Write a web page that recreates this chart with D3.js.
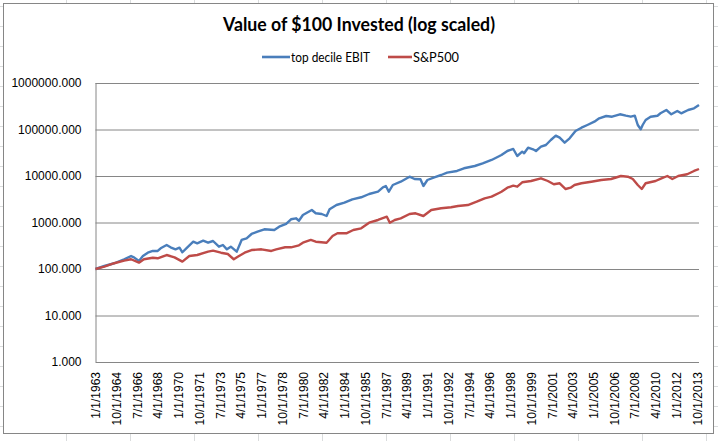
<!DOCTYPE html>
<html lang="en">
<head>
<meta charset="UTF-8">
<title>Value of $100 Invested (log scaled)</title>
<script src="https://cdn.jsdelivr.net/npm/d3@7"></script>
<style>
  html, body { margin: 0; padding: 0; background: #fff; }
  svg { display: block; }
</style>
</head>
<body>
<div id="chart"></div>
<script>
// values (month, value of $100)
const topDates = ["1963-01","1963-10","1964-08","1965-06","1966-01","1966-04","1966-09","1967-01","1967-06","1967-11",
  "1968-04","1968-07","1969-01","1969-05","1969-10","1970-02","1970-05","1970-10","1971-04","1971-08",
  "1972-02","1972-07","1972-12","1973-06","1973-10","1974-02","1974-06","1974-12","1975-05","1975-10",
  "1976-03","1976-09","1977-04","1978-02","1978-07","1979-02","1979-07","1979-12","1980-03","1980-07",
  "1981-04","1981-08","1982-02","1982-07","1982-10","1983-05","1984-01","1984-09","1985-06","1986-02",
  "1986-11","1987-04","1987-07","1987-10","1988-02","1988-10","1989-07","1989-12","1990-06","1990-09",
  "1991-01","1991-08","1992-03","1992-09","1993-07","1994-02","1995-01","1995-09","1996-06","1997-02",
  "1997-04","1997-10","1998-04","1998-08","1999-01","1999-03","1999-07","1999-12","2000-03","2000-08",
  "2001-01","2001-06","2001-11","2002-03","2002-08","2003-01","2003-07","2004-01","2004-07","2005-02",
  "2005-07","2006-02","2006-08","2007-04","2007-10","2008-03","2008-07","2008-10","2009-01","2009-03",
  "2009-06","2009-11","2010-06","2010-09","2011-03","2011-08","2012-02","2012-06","2013-01","2013-07","2013-12"];
const topValues = [100,116,133,162,190,178,149,190,224,244,
  244,279,328,293,265,287,229,293,386,357,
  406,368,400,302,328,265,302,236,421,457,
  566,634,714,690,812,929,1172,1231,1093,1449,
  1857,1578,1524,1380,1922,2378,2667,3155,3484,4100,
  4594,5717,6095,4594,6404,7538,9660,8613,8492,6095,
  8204,9380,10510,11780,12820,14650,16400,18750,22090,26920,
  28300,34500,38100,26920,33340,30770,40600,37500,34500,42660,
  46420,59430,73600,66660,52030,64700,92860,109300,125000,147200,
  174100,195000,188500,212400,198100,188500,198100,125000,101000,125000,
  160000,188500,198100,223000,262600,212400,250000,223000,262600,285700,336500];

const spDates = ["1963-01","1963-10","1964-08","1965-06","1966-01","1966-09","1967-02","1967-11","1968-04","1969-01",
  "1969-09","1970-05","1970-12","1971-08","1972-07","1972-12","1973-08","1974-03","1974-09","1975-01",
  "1975-08","1976-03","1977-01","1977-11","1978-04","1979-01","1979-07","1980-03","1980-07","1981-03",
  "1981-08","1982-07","1983-01","1983-06","1984-03","1984-10","1985-06","1986-02","1986-11","1987-08",
  "1987-11","1988-04","1988-10","1989-07","1990-01","1990-09","1991-05","1992-03","1993-01","1993-08",
  "1994-06","1995-03","1995-11","1996-06","1997-02","1997-04","1997-10","1998-04","1998-08","1999-01",
  "1999-10","2000-08","2001-03","2001-09","2002-03","2002-09","2003-02","2003-06","2004-01","2004-11",
  "2005-09","2006-07","2007-05","2007-12","2008-05","2008-10","2009-02","2009-06","2010-04","2010-10",
  "2011-04","2011-09","2012-03","2012-12","2013-07","2013-12"];
const spValues = [100,112,133,151,162,137,162,175,170,200,
  178,144,190,200,236,248,224,210,162,184,
  224,256,265,244,265,293,293,323,368,421,
  386,368,512,586,586,690,750,990,1132,1333,
  990,1132,1231,1524,1578,1380,1857,2020,2123,2264,
  2378,2800,3313,3590,4374,4594,5600,6185,5890,7325,
  7808,8930,7808,6635,6970,5250,5600,6404,6970,7538,
  8204,8613,10000,9660,8613,6404,5250,6970,7808,8930,
  10000,8613,10000,10890,12820,14150];

const seriesNames = ["top decile EBIT", "S&P500"];
const seriesColors = ["#4A7EBB", "#BE4B48"];

const xTickLabels = ["1/1/1963","10/1/1964","7/1/1966","4/1/1968","1/1/1970","10/1/1971","7/1/1973","4/1/1975",
  "1/1/1977","10/1/1978","7/1/1980","4/1/1982","1/1/1984","10/1/1985","7/1/1987","4/1/1989","1/1/1991",
  "10/1/1992","7/1/1994","4/1/1996","1/1/1998","10/1/1999","7/1/2001","4/1/2003","1/1/2005","10/1/2006",
  "7/1/2008","4/1/2010","1/1/2012","10/1/2013"];
const yTicks = [1, 10, 100, 1000, 10000, 100000, 1000000];

const width = 718, height = 441;
const plot = { left: 95.5, right: 699, top: 83, bottom: 362 };

const parseMonth = d3.timeParse("%Y-%m");
const parseTick = d3.timeParse("%m/%d/%Y");

const svg = d3.select("#chart").append("svg")
  .attr("width", width)
  .attr("height", height);

// faint spreadsheet cells peeking out around the chart object
const sheet = svg.append("g").attr("stroke", "#dadcdd").attr("stroke-width", 1);
for (let y = 6.5; y < height; y += 20) sheet.append("line").attr("x1", 0).attr("x2", width).attr("y1", y).attr("y2", y);
for (let x = 66.5; x < width; x += 64) sheet.append("line").attr("x1", x).attr("x2", x).attr("y1", 0).attr("y2", height);

svg.append("rect")
  .attr("x", 3.5).attr("y", 3.5)
  .attr("width", 710).attr("height", 430)
  .attr("fill", "#fff")
  .attr("stroke", "#868686");

const x = d3.scaleTime()
  .domain([parseMonth("1963-01"), parseMonth("2013-12")])
  .range([plot.left, plot.right]);

const y = d3.scaleLog()
  .domain([1, 1000000])
  .range([plot.bottom, plot.top]);

// gridlines + y labels
const yAxis = d3.axisLeft(y)
  .tickValues(yTicks)
  .tickFormat(d3.format(".3f"))
  .tickSize(-(plot.right - plot.left))
  .tickPadding(14);

const gy = svg.append("g")
  .attr("transform", `translate(${plot.left},0)`)
  .call(yAxis);
gy.select(".domain").attr("stroke", "#868686").attr("d", `M0.5,${plot.top}V${plot.bottom}`);
gy.selectAll(".tick line").attr("stroke", "#868686");
gy.selectAll(".tick text")
  .attr("fill", "#000")
  .style("font-family", "'Liberation Sans', Arial, sans-serif")
  .style("font-size", "12px");

// x axis labels, vertical
const xAxis = d3.axisBottom(x)
  .tickValues(xTickLabels.map(parseTick))
  .tickFormat((d, i) => xTickLabels[i])
  .tickSize(0);

const gx = svg.append("g")
  .attr("transform", `translate(0,${plot.bottom})`)
  .call(xAxis);
gx.select(".domain").remove();
gx.selectAll(".tick text")
  .attr("fill", "#000")
  .style("font-family", "'Liberation Sans', Arial, sans-serif")
  .style("font-size", "12px")
  .attr("text-anchor", "end")
  .attr("transform", "rotate(-90)")
  .attr("x", -10)
  .attr("y", 0)
  .attr("dy", "0.35em");

// the two series
const line = d3.line()
  .x(d => x(d.date))
  .y(d => y(d.value));

const series = [
  topDates.map((d, i) => ({ date: parseMonth(d), value: topValues[i] })),
  spDates.map((d, i) => ({ date: parseMonth(d), value: spValues[i] }))
];

svg.append("g")
  .selectAll("path")
  .data(series)
  .join("path")
  .attr("d", line)
  .attr("fill", "none")
  .attr("stroke", (d, i) => seriesColors[i])
  .attr("stroke-width", 2.4)
  .attr("stroke-linejoin", "round");

// title
svg.append("text")
  .attr("x", 359)
  .attr("y", 31)
  .attr("text-anchor", "middle")
  .attr("textLength", 272)
  .attr("lengthAdjust", "spacingAndGlyphs")
  .style("font-family", "Lato, 'Open Sans', sans-serif")
  .style("font-weight", "bold")
  .style("font-size", "18.5px")
  .text("Value of $100 Invested (log scaled)");

// legend
const legendItems = [
  { x1: 262, x2: 290, tx: 291, tw: 79 },
  { x1: 388, x2: 412, tx: 413, tw: 46 }
];
const legend = svg.append("g");
legendItems.forEach((l, i) => {
  legend.append("line")
    .attr("x1", l.x1).attr("x2", l.x2)
    .attr("y1", 57).attr("y2", 57)
    .attr("stroke", seriesColors[i])
    .attr("stroke-width", 2.6);
  legend.append("text")
    .attr("x", l.tx)
    .attr("y", 61.5)
    .attr("textLength", l.tw)
    .attr("lengthAdjust", "spacingAndGlyphs")
    .style("font-family", "Lato, 'Open Sans', sans-serif")
    .style("font-size", "12.5px")
    .text(seriesNames[i]);
});
</script>
</body>
</html>
